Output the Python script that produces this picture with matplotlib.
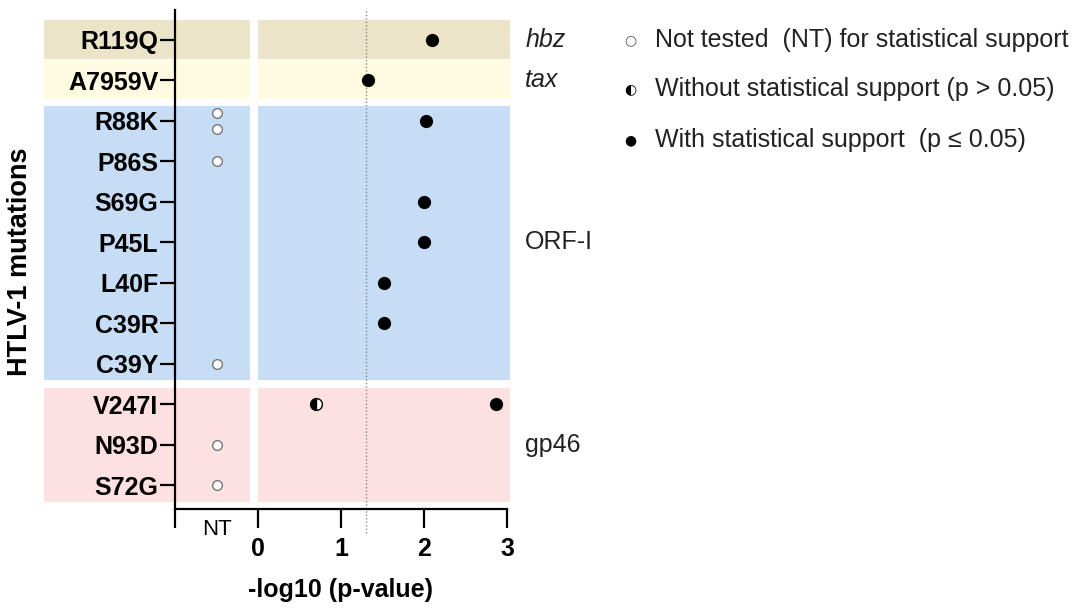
import matplotlib
matplotlib.use('Agg')
import matplotlib.pyplot as plt
from matplotlib.patches import Rectangle

plt.rcParams['font.family'] = ['Liberation Sans', 'DejaVu Sans']

# data
mutations = ['R119Q', 'A7959V', 'R88K', 'P86S', 'S69G', 'P45L',
             'L40F', 'C39R', 'C39Y', 'V247I', 'N93D', 'S72G']
sig_names = ['R119Q', 'A7959V', 'R88K', 'S69G', 'P45L', 'L40F', 'C39R', 'V247I']
sig_vals = [2.10, 1.32, 2.02, 2.00, 2.00, 1.52, 1.52, 2.87]
nonsig_names = ['V247I']
nonsig_vals = [0.70]
nt_names = ['R88K', 'R88K', 'P86S', 'C39Y', 'N93D', 'S72G']
genes = ['hbz', 'tax', 'ORF-I', 'gp46']
gene_first = ['R119Q', 'A7959V', 'R88K', 'V247I']
gene_last = ['R119Q', 'A7959V', 'C39Y', 'S72G']
gene_colors = ['#ebe4c9', '#fefbe0', '#c7dcf5', '#fde0e0']
gene_italic = [True, True, False, False]
threshold = 1.301  # -log10(0.05)

row = {m: i for i, m in enumerate(mutations)}

fig = plt.figure(figsize=(10.88, 6.10), dpi=100)
ax = fig.add_axes([175/1088, 101/610, 332/1088, 499/610])
ax.set_xlim(-1, 3)
ax.set_ylim(11.59, -0.74)

# background bands
gaps_top = [0.49, 0.51, 0.37, 0.40]
gaps_bot = [0.47, 0.46, 0.41, 0.42]
for g in range(len(genes)):
    y0 = row[gene_first[g]] - gaps_top[g]
    y1 = row[gene_last[g]] + gaps_bot[g]
    ax.add_patch(Rectangle((-2.58, y0), 2.48, y1 - y0, color=gene_colors[g],
                           lw=0, clip_on=False, zorder=0))
    ax.add_patch(Rectangle((0, y0), 3.04, y1 - y0, color=gene_colors[g],
                           lw=0, clip_on=False, zorder=0))
    ymid = (row[gene_first[g]] + row[gene_last[g]]) / 2
    ax.text(3.22, ymid, genes[g], fontsize=18, va='center', ha='left',
            style='italic' if gene_italic[g] else 'normal', color='#222222')

# threshold line
ax.axvline(threshold, ymin=-0.048, ymax=1, color='#888888', lw=1,
           ls=(0, (1, 1.5)), clip_on=False, zorder=1)

# not tested points
seen = {}
for m in nt_names:
    n = nt_names.count(m)
    k = seen.get(m, 0)
    seen[m] = k + 1
    off = 0 if n == 1 else (k - (n - 1) / 2) * 0.4
    ax.plot(-0.5, row[m] + off, 'o', ms=7, mfc='white', mec='#777777',
            mew=1, zorder=3)

# without statistical support
ax.plot(nonsig_vals, [row[m] for m in nonsig_names], 'o', ms=8.5,
        fillstyle='left', mfc='black', mfcalt='white', mec='black',
        mew=1, ls='none', zorder=3)
# with statistical support
ax.plot(sig_vals, [row[m] for m in sig_names], 'o', ms=8.5, color='black',
        ls='none', zorder=3)

# axes styling
for s in ['top', 'right']:
    ax.spines[s].set_visible(False)
for s in ['left', 'bottom']:
    ax.spines[s].set_linewidth(1.6)
ax.set_yticks(range(len(mutations)))
ax.set_yticklabels(mutations, fontsize=18, fontweight='bold')
ax.set_xticks([-1, 0, 1, 2, 3])
ax.set_xticklabels(['', '0', '1', '2', '3'], fontsize=18, fontweight='bold')
ax.tick_params(axis='y', length=11, width=1.6, pad=1)
ax.tick_params(axis='x', length=14, width=1.6, pad=6)
ax.text(-0.5, 11.59 + 0.5, 'NT', fontsize=16, ha='center', va='center')

fig.text(20/1088, 1 - 262/610, 'HTLV-1 mutations', rotation=90, fontsize=19.5,
         fontweight='bold', ha='center', va='center')
fig.text(340/1088, 1 - 590/610, '-log10 (p-value)', fontsize=18,
         fontweight='bold', ha='center', va='center')

# legend
leg_labels = ['Not tested  (NT) for statistical support',
              'Without statistical support (p > 0.05)',
              'With statistical support  (p \u2264 0.05)']
leg_y = [40, 89, 140]
fig.text(630/1088, 1 - leg_y[0]/610, '\u25cb', fontsize=10, color='#555555',
         ha='center', va='center', family=['DejaVu Sans'])
fig.text(630/1088, 1 - leg_y[1]/610, '\u25d0', fontsize=10, color='black',
         ha='center', va='center', family=['DejaVu Sans'])
fig.text(630/1088, 1 - leg_y[2]/610, '\u25cf', fontsize=10, color='black',
         ha='center', va='center', family=['DejaVu Sans'])
for lab, y in zip(leg_labels, leg_y):
    fig.text(655/1088, 1 - y/610, lab, fontsize=18, ha='left', va='center',
             color='#222222')

fig.savefig('out.png', dpi=100)
